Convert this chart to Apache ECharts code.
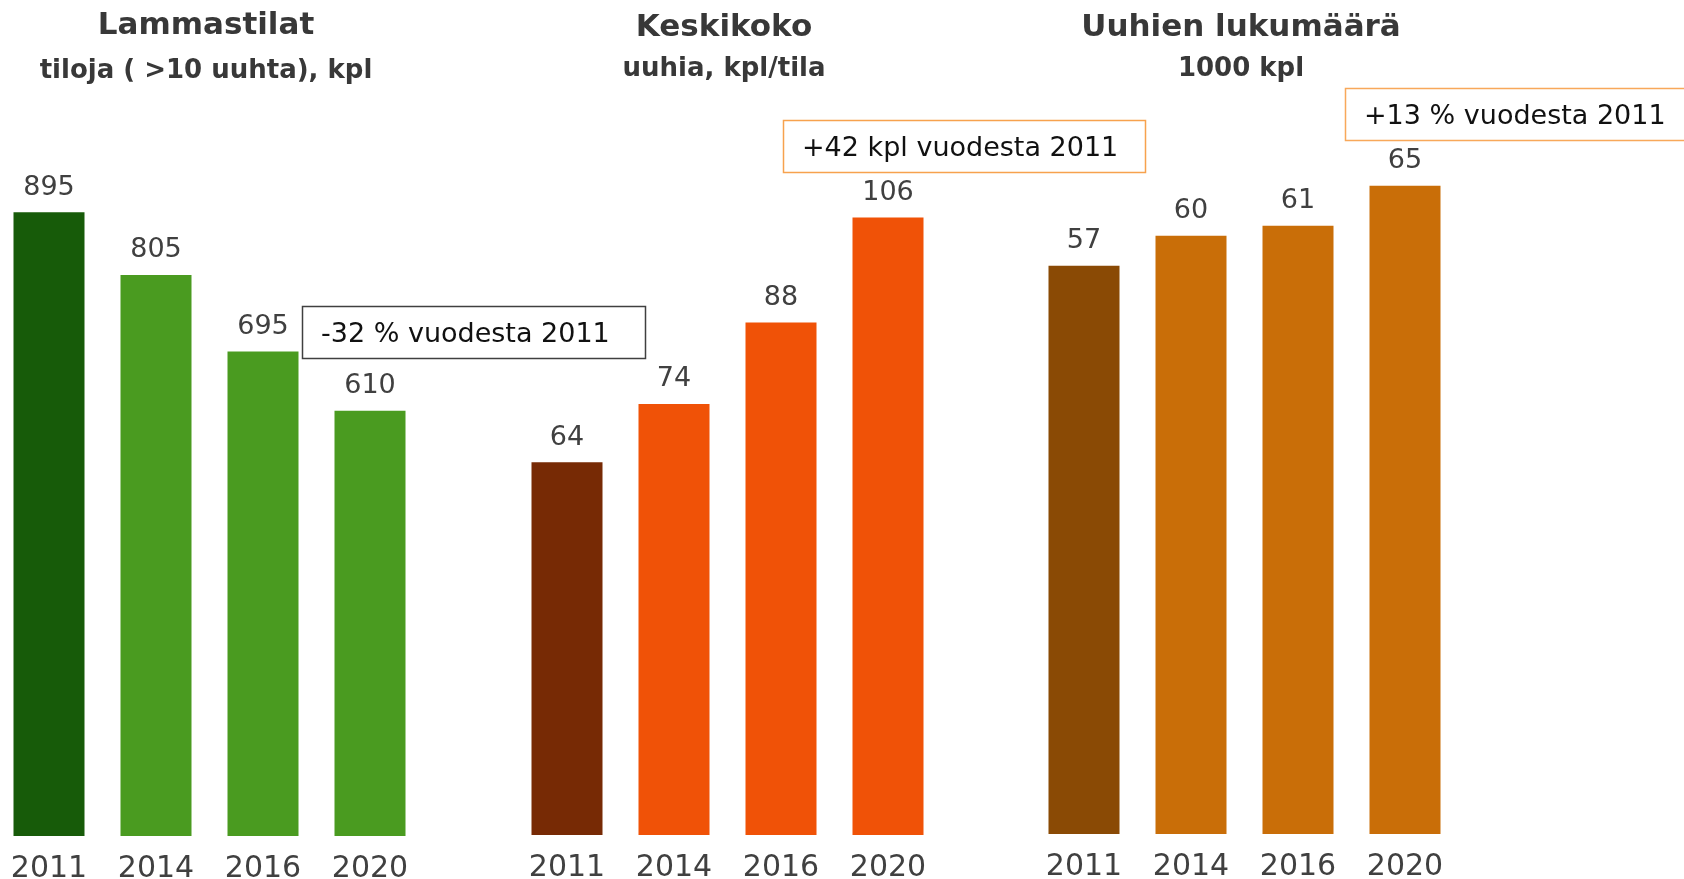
<!DOCTYPE html>
<html>
<head>
<meta charset="utf-8">
<script src="https://cdn.jsdelivr.net/npm/echarts@6/dist/echarts.min.js"></script>
<style>
  html, body { margin: 0; padding: 0; background: #fff; }
  #chart { width: 1684px; height: 879px; }
</style>
</head>
<body>
<div id="chart"></div>
<script>
// data
const years = ["2011", "2014", "2016", "2020"];
const farms = [895, 805, 695, 610];      // tiloja (>10 uuhta), kpl
const avgSize = [64, 74, 88, 106];       // uuhia, kpl/tila
const ewes = [57, 60, 61, 65];           // 1000 kpl

const titles = ["Lammastilat", "Keskikoko", "Uuhien lukumäärä"];
const subtitles = ["tiloja ( >10 uuhta), kpl", "uuhia, kpl/tila", "1000 kpl"];
const notes = ["-32 % vuodesta 2011", "+42 kpl vuodesta 2011", "+13 % vuodesta 2011"];

const FONT = '"DejaVu Sans", Verdana, sans-serif';
const TEXT = "#404040";

// first bar centre (px) for each panel, bars 107 px apart
const panels = [
  { data: farms, max: 1000, left: 49, bottom: 43, top: 139, dark: "#175b09", light: "#4a9b20" },
  { data: avgSize, max: 120, left: 567, bottom: 44, top: 136, dark: "#772a05", light: "#f05207" },
  { data: ewes, max: 70, left: 1084, bottom: 45, top: 136, dark: "#8a4a05", light: "#c96e08" },
];

const chart = echarts.init(document.getElementById("chart"));

const titleCenters = [206, 724, 1241];
const titleTops = [10, 12, 12];
const titleGaps = [17, 13, 13];

const option = {
  animation: false,
  title: titles.map((t, i) => ({
    text: t,
    subtext: subtitles[i],
    left: titleCenters[i],
    top: titleTops[i],
    textAlign: "center",
    padding: 0,
    itemGap: titleGaps[i],
    textStyle: { fontFamily: FONT, fontSize: 31, fontWeight: "bold", color: "#383838" },
    subtextStyle: { fontFamily: FONT, fontSize: 26, fontWeight: "bold", color: "#383838" },
  })),
  grid: panels.map(p => ({
    left: p.left,
    width: 321,
    bottom: p.bottom,
    top: p.top,
    outerBoundsMode: "none",
    containLabel: false,
  })),
  xAxis: panels.map((p, i) => ({
    type: "category",
    gridIndex: i,
    data: years,
    boundaryGap: false,
    axisLine: { show: false },
    axisTick: { show: false },
    axisLabel: {
      margin: 18,
      fontFamily: FONT,
      fontSize: 30,
      color: TEXT,
    },
  })),
  yAxis: panels.map((p, i) => ({
    type: "value",
    gridIndex: i,
    min: 0,
    max: p.max,
    show: false,
    splitLine: { show: false },
  })),
  series: panels.map((p, i) => ({
    type: "bar",
    xAxisIndex: i,
    yAxisIndex: i,
    data: p.data,
    barWidth: 71,
    clip: false,
    itemStyle: {
      color: params => (params.dataIndex === 0 ? p.dark : p.light),
    },
    label: {
      show: true,
      position: "top",
      distance: 11,
      fontFamily: FONT,
      fontSize: 27,
      color: TEXT,
    },
  })),
  graphic: [
    { x: 302, y: 306, w: 343, h: 52, border: "#404040", text: notes[0] },
    { x: 783, y: 120, w: 362, h: 52, border: "#f7a24e", text: notes[1] },
    { x: 1345, y: 88, w: 350, h: 52, border: "#f8a85a", text: notes[2] },
  ].map(b => ({
    type: "group",
    x: b.x,
    y: b.y,
    children: [
      {
        type: "rect",
        shape: { x: 0.5, y: 0.5, width: b.w, height: b.h },
        style: { fill: "#fff", stroke: b.border, lineWidth: 1.5 },
      },
      {
        type: "text",
        x: 19,
        y: b.h / 2 + 3,
        style: {
          text: b.text,
          fontFamily: FONT,
          fontSize: 27,
          fill: "#111",
          verticalAlign: "middle",
        },
      },
    ],
  })),
};

chart.setOption(option);
</script>
</body>
</html>
